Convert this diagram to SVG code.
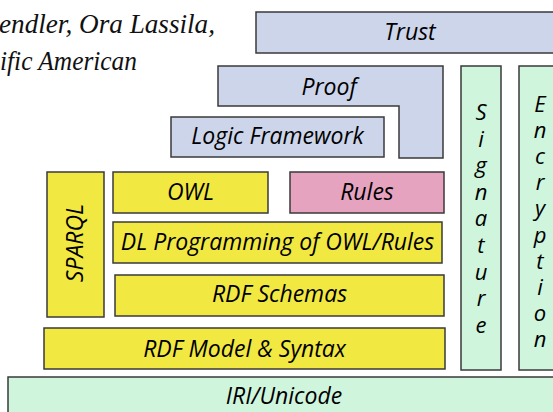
<svg xmlns="http://www.w3.org/2000/svg" width="553" height="412" viewBox="0 0 553 412">
  <style>
    .box { stroke: #3a3a3a; stroke-width: 1.5; }
    .blue { fill: #cdd5ea; }
    .green { fill: #cff5dd; }
    .yellow { fill: #f2e842; }
    .pink { fill: #e6a3c0; }
    .lbl { font-family: "Open Sans", "DejaVu Sans", sans-serif; font-style: italic; font-size: 23px; fill: #000; text-anchor: middle; }
    .vert { font-family: "Open Sans", "DejaVu Sans", sans-serif; font-style: italic; font-size: 22px; fill: #000; text-anchor: middle; }
    .cite { font-family: "Liberation Serif", serif; font-style: italic; font-size: 28px; fill: #111; }
  </style>
  <rect width="553" height="412" fill="#ffffff"/>

  <!-- citation lines -->
  <g id="citation">
    <text class="cite" x="-1" y="33" textLength="216" lengthAdjust="spacingAndGlyphs">endler, Ora Lassila,</text>
    <text class="cite" x="0" y="70" textLength="137" lengthAdjust="spacingAndGlyphs">ific American</text>
  </g>

  <g id="trust">
    <rect class="box blue" x="256" y="12" width="320" height="41"/>
    <text class="lbl" x="410" y="40">Trust</text>
  </g>

  <g id="proof">
    <polygon class="box blue" points="218,66 443,66 443,158 399,158 399,106 218,106"/>
    <text class="lbl" x="329" y="95">Proof</text>
  </g>

  <g id="logic-framework">
    <rect class="box blue" x="171" y="117" width="213" height="40"/>
    <text class="lbl" x="277.5" y="144">Logic Framework</text>
  </g>

  <!-- one letter per line, stacked top to bottom -->
  <g id="signature">
    <rect class="box green" x="461" y="66" width="40" height="304"/>
    <text class="vert" x="481" y="120">S</text>
    <text class="vert" x="481" y="146.6">i</text>
    <text class="vert" x="481" y="173.2">g</text>
    <text class="vert" x="481" y="199.8">n</text>
    <text class="vert" x="481" y="226.4">a</text>
    <text class="vert" x="481" y="253">t</text>
    <text class="vert" x="481" y="279.6">u</text>
    <text class="vert" x="481" y="306.2">r</text>
    <text class="vert" x="481" y="332.8">e</text>
  </g>

  <g id="encryption">
    <rect class="box green" x="519" y="66" width="50" height="304"/>
    <text class="vert" x="540" y="112">E</text>
    <text class="vert" x="540" y="138.1">n</text>
    <text class="vert" x="540" y="164.2">c</text>
    <text class="vert" x="540" y="190.3">r</text>
    <text class="vert" x="540" y="216.4">y</text>
    <text class="vert" x="540" y="242.5">p</text>
    <text class="vert" x="540" y="268.6">t</text>
    <text class="vert" x="540" y="294.7">i</text>
    <text class="vert" x="540" y="320.8">o</text>
    <text class="vert" x="540" y="346.9">n</text>
  </g>

  <g id="sparql">
    <rect class="box yellow" x="47" y="172" width="57" height="145"/>
    <text class="lbl" transform="translate(83,243) rotate(-90)" x="0" y="0">SPARQL</text>
  </g>

  <g id="owl">
    <rect class="box yellow" x="113" y="172" width="155" height="41"/>
    <text class="lbl" x="190.5" y="200">OWL</text>
  </g>

  <g id="rules">
    <rect class="box pink" x="290" y="172" width="154" height="41"/>
    <text class="lbl" x="367" y="200">Rules</text>
  </g>

  <g id="dl-programming">
    <rect class="box yellow" x="113" y="222" width="329" height="41"/>
    <text class="lbl" x="277.5" y="250">DL Programming of OWL/Rules</text>
  </g>

  <g id="rdf-schemas">
    <rect class="box yellow" x="115" y="275" width="329" height="41"/>
    <text class="lbl" x="279.5" y="302">RDF Schemas</text>
  </g>

  <g id="rdf-model">
    <rect class="box yellow" x="44" y="328" width="401" height="41"/>
    <text class="lbl" x="244.5" y="357">RDF Model &amp; Syntax</text>
  </g>

  <g id="iri-unicode">
    <rect class="box green" x="8" y="377" width="570" height="50"/>
    <text class="lbl" x="284" y="404">IRI/Unicode</text>
  </g>
</svg>
